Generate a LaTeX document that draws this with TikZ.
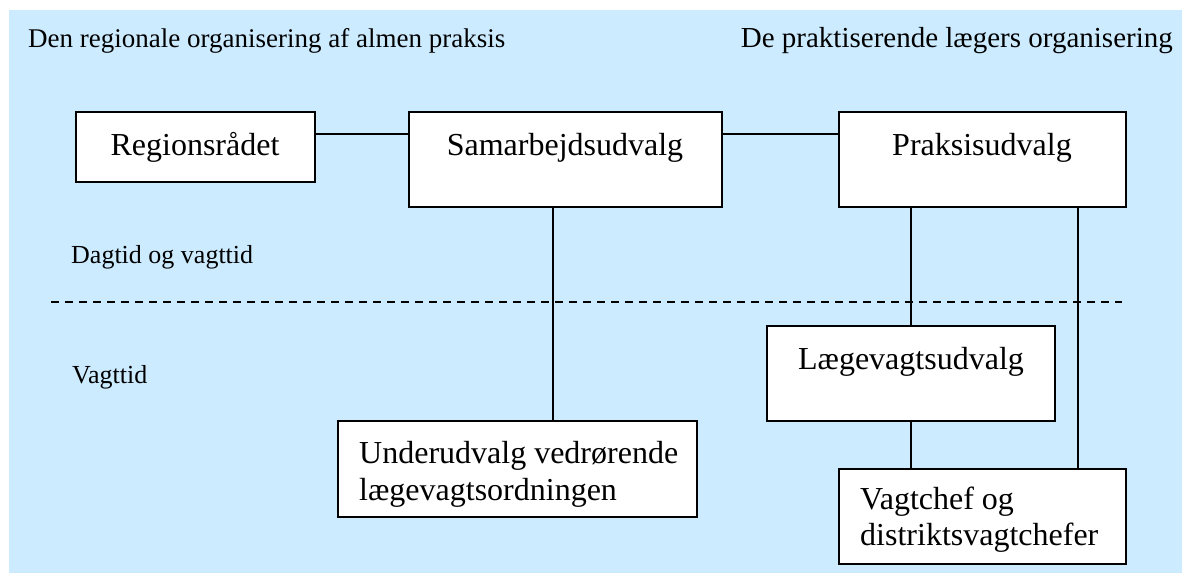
\documentclass[tikz,border=0pt]{standalone}
\usepackage{fontspec}
\setmainfont{Liberation Serif}
\definecolor{bgblue}{RGB}{204,235,255}
\begin{document}
\begin{tikzpicture}[x=1pt,y=-1pt,
  box/.style={draw=black, line width=2pt, fill=white, inner sep=0pt},
  conn/.style={draw=black, line width=2pt},
  boxtext/.style={inner sep=0pt, font=\fontsize{32}{37}\selectfont},
  titletext/.style={inner sep=0pt, font=\fontsize{27}{32}\selectfont},
  titletextb/.style={inner sep=0pt, font=\fontsize{29}{34}\selectfont},
  sidetext/.style={inner sep=0pt, font=\fontsize{26}{30}\selectfont}]
\useasboundingbox (0,0) rectangle (1182,573);
\fill[bgblue] (9,10) rectangle (1182,573);
% titles
\node[titletext, anchor=base west] (t1) at (28,47) {Den regionale organisering af almen praksis};
\node[titletextb, anchor=base east] (t2) at (1173,47) {De praktiserende lægers organisering};
\node[sidetext, anchor=base west] (s1) at (71,263) {Dagtid og vagttid};
\node[sidetext, anchor=base west] (s2) at (72,383) {Vagttid};
% dashed separator
\coordinate (dl) at (51,302);
\coordinate (dr) at (1122,302);
\draw[line width=1.6pt, dash pattern=on 8pt off 6pt] (dl) -- (dr);
% boxes
\node[box, minimum width=239, minimum height=70] (reg) at (195.5,147) {};
\node[box, minimum width=313, minimum height=95] (sam) at (565.5,159.5) {};
\node[box, minimum width=287, minimum height=95] (pra) at (982.5,159.5) {};
\node[box, minimum width=288, minimum height=95] (lae) at (911,373.5) {};
\node[box, minimum width=287, minimum height=95] (vag) at (982.5,516.5) {};
\node[box, minimum width=359, minimum height=96] (und) at (517.5,469) {};
% connectors
\draw[conn] (reg.east |- 0,134) -- (sam.west |- 0,134);
\draw[conn] (sam.east |- 0,134) -- (pra.west |- 0,134);
\draw[conn] (sam.south -| 553,0) -- (und.north -| 553,0);
\draw[conn] (pra.south -| 911,0) -- (lae.north -| 911,0);
\draw[conn] (lae.south -| 911,0) -- (vag.north -| 911,0);
\draw[conn] (pra.south -| 1078,0) -- (vag.north -| 1078,0);
% box texts
\node[boxtext, anchor=base] (regt) at (195,155) {Regionsrådet};
\node[boxtext, anchor=base] (samt) at (565,155) {Samarbejdsudvalg};
\node[boxtext, anchor=base] (prat) at (982,155) {Praksisudvalg};
\node[boxtext, anchor=base] (laet) at (911,369) {Lægevagtsudvalg};
\node[boxtext, anchor=base west] (undt1) at (359,463) {Underudvalg vedrørende};
\node[boxtext, anchor=base west] (undt2) at (359,500) {lægevagtsordningen};
\node[boxtext, anchor=base west] (vagt1) at (860,509) {Vagtchef og};
\node[boxtext, anchor=base west] (vagt2) at (860,545) {distriktsvagtchefer};
\end{tikzpicture}
\end{document}
